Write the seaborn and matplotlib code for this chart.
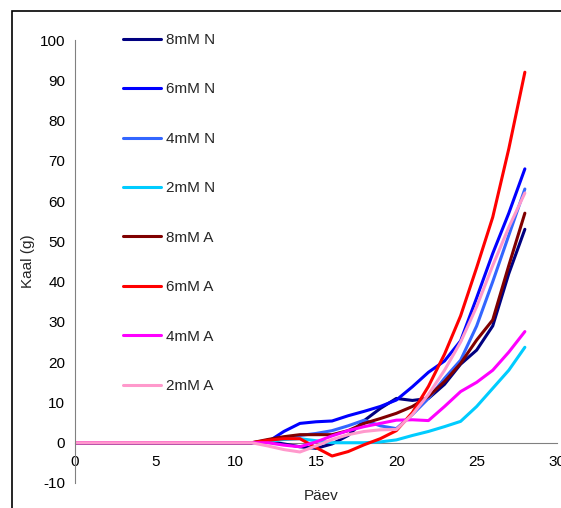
import matplotlib
matplotlib.use("Agg")
import matplotlib.pyplot as plt
import seaborn as sns
import pandas as pd
from matplotlib.patches import Rectangle

days = [0, 1, 2, 3, 4, 5, 6, 7, 8, 9, 10, 11, 12, 13, 14, 15, 16, 17, 18, 19,
        20, 21, 22, 23, 24, 25, 26, 27, 28]

n8 = [0, 0, 0, 0, 0, 0, 0, 0, 0, 0, 0, 0, 0.3, -0.3, -1.0, -1.4, -0.3, 1.8, 5.5, 8.5,
      11, 10.5, 11, 14.5, 19.5, 23, 29, 42, 53]
n6 = [0, 0, 0, 0, 0, 0, 0, 0, 0, 0, 0, 0, 0.2, 2.8, 4.8, 5.2, 5.4, 6.7, 7.8, 9.0,
      10.6, 13.9, 17.5, 20.3, 25.3, 36, 47, 57, 68]
n4 = [0, 0, 0, 0, 0, 0, 0, 0, 0, 0, 0, 0, 0.3, 1.0, 1.8, 2.3, 3.0, 4.2, 5.6, 4.2,
      3.5, 7, 11, 16, 20.5, 29, 40, 51.5, 63]
n2 = [0, 0, 0, 0, 0, 0, 0, 0, 0, 0, 0, 0, 0.3, 0.8, 1.0, 0.5, 0, 0, 0, 0.2,
      0.7, 1.8, 2.8, 4, 5.3, 9, 13.5, 18, 23.7]
a8 = [0, 0, 0, 0, 0, 0, 0, 0, 0, 0, 0, 0, 0.8, 1.5, 2, 2, 2, 3, 4.8, 6.0,
      7.3, 9.0, 11.5, 15.2, 19.7, 25.5, 30.5, 44, 57]
a6 = [0, 0, 0, 0, 0, 0, 0, 0, 0, 0, 0, 0, 0.6, 1.0, 1.0, -1.2, -3.3, -2.2, -0.5, 1.0,
      3.0, 7.5, 14, 22, 31.5, 43.5, 56, 73, 92]
a4 = [0, 0, 0, 0, 0, 0, 0, 0, 0, 0, 0, 0, 0, -0.6, -1.0, 0.2, 1.7, 3.0, 4.0, 4.8,
      5.6, 5.7, 5.5, 9, 12.7, 15, 18, 22.5, 27.6]
a2 = [0, 0, 0, 0, 0, 0, 0, 0, 0, 0, 0, 0, -0.8, -1.7, -2.3, -0.8, 0.8, 2.0, 2.8, 3.2,
      3.3, 7, 12, 18, 25, 33.8, 44, 53.5, 62]

labels = ["8mM N", "6mM N", "4mM N", "2mM N", "8mM A", "6mM A", "4mM A", "2mM A"]
series = [n8, n6, n4, n2, a8, a6, a4, a2]
colors = ["#000080", "#0000FF", "#3366FF", "#00CCFF", "#800000", "#FF0000", "#FF00FF", "#FF99CC"]

x_ticks = [0, 5, 10, 15, 20, 25, 30]
y_ticks = [-10, 0, 10, 20, 30, 40, 50, 60, 70, 80, 90, 100]

rows = []
for lab, vals in zip(labels, series):
    for d, v in zip(days, vals):
        rows.append({"Päev": d, "Kaal (g)": v, "seeria": lab})
df = pd.DataFrame(rows)

sns.set_style("white")
plt.rcParams['font.family'] = ['Liberation Sans', 'DejaVu Sans']

fig = plt.figure(figsize=(5.61, 5.08), dpi=100)
ax = fig.add_axes([75/561, 1-483/508, (557-75)/561, (483-40)/508])

sns.lineplot(data=df, x="Päev", y="Kaal (g)", hue="seeria", hue_order=labels,
             palette=dict(zip(labels, colors)), estimator=None, sort=False,
             linewidth=2.2, ax=ax, legend=False)

ax.set_xlim(0, 30)
ax.set_ylim(-10, 100)
ax.set_xticks(x_ticks)
ax.set_yticks(y_ticks)
ax.set_xticklabels([str(t) for t in x_ticks])
ax.set_yticklabels([str(t) for t in y_ticks])

for s in ["top", "right"]:
    ax.spines[s].set_visible(False)
ax.spines["left"].set_color("#808080")
ax.spines["bottom"].set_color("#808080")
ax.spines["bottom"].set_position(("data", 0))
ax.spines["bottom"].set_zorder(0)
ax.tick_params(axis="both", direction="out", length=4, width=1, color="#808080",
               labelsize=11, labelcolor="black")
ax.tick_params(axis="x", pad=5)
ax.tick_params(axis="y", pad=3)

ax.set_xlabel("Päev", fontsize=11)
ax.set_ylabel("Kaal (g)", fontsize=11)
ax.xaxis.set_label_coords((321-75)/(557-75), -(489-483)/(483-40))
ax.xaxis.label.set_verticalalignment("top")
ax.yaxis.set_label_coords(-(75-35)/(557-75), 0.5)

handles = [plt.Line2D([], [], color=c, lw=2.2) for c in colors]
leg = ax.legend(handles, labels, loc="upper left", bbox_to_anchor=(123/561, 1-33/508),
                bbox_transform=fig.transFigure, frameon=False, fontsize=11,
                handlelength=2.5, handletextpad=0.3, labelspacing=2.32,
                borderpad=0, borderaxespad=0)

fig.patches.append(Rectangle((12/561, -0.1), 1.2, 1.1 - 11/508,
                             transform=fig.transFigure, fill=False,
                             edgecolor="black", linewidth=1.2))

fig.savefig("out.png", dpi=100)
